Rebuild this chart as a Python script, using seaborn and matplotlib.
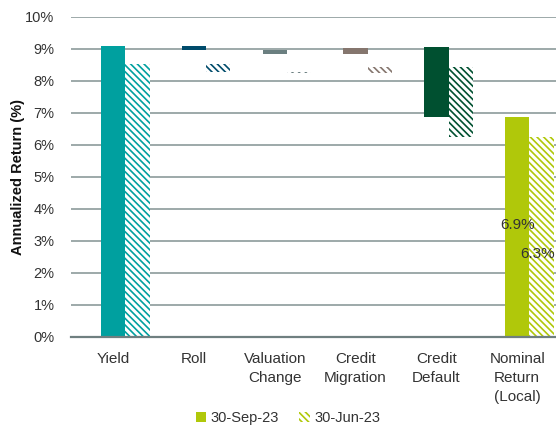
import numpy as np
import pandas as pd
import matplotlib
matplotlib.use("Agg")
import matplotlib.pyplot as plt
import seaborn as sns
from matplotlib.patches import Patch

categories = ["Yield", "Roll", "Valuation\nChange", "Credit\nMigration",
              "Credit\nDefault", "Nominal\nReturn\n(Local)"]
colors = ["#00A09F", "#004B6B", "#6B7F80", "#85766E", "#005030", "#B0C80A"]

# floating bars: bottom and top of each step (%)
sep_bottom = [0.0, 8.97, 8.84, 8.84, 6.88, 0.0]
sep_top = [9.08, 9.08, 8.97, 9.02, 9.05, 6.88]
jun_bottom = [0.0, 8.27, 8.23, 8.23, 6.25, 0.0]
jun_top = [8.52, 8.52, 8.27, 8.44, 8.43, 6.23]
labels_sep = "6.9%"
labels_jun = "6.3%"

sns.set_theme(style="white")
plt.rcParams["font.family"] = ["Liberation Sans", "DejaVu Sans"]
plt.rcParams["hatch.linewidth"] = 1.2

HATCH = "\\" * 5

fig = plt.figure(figsize=(5.56, 4.25), dpi=100)
ax = fig.add_axes([0.128, 0.2078, 0.872, 0.7529])

pos = np.arange(len(categories))
w = 0.3

def draw(offset, bottom, top, hatched):
    df = pd.DataFrame({"x": pos + offset,
                       "h": np.array(top) - np.array(bottom)})
    n0 = len(ax.patches)
    sns.barplot(data=df, x="x", y="h", native_scale=True, width=w,
                errorbar=None, bottom=np.array(bottom), color="black",
                saturation=1, ax=ax)
    for p, c in zip(ax.patches[n0:], colors):
        if hatched:
            p.set_facecolor("white")
            p.set_edgecolor(c)
            p.set_hatch(HATCH)
        else:
            p.set_facecolor(c)
            p.set_edgecolor(c)
        p.set_linewidth(0)

draw(0.0, sep_bottom, sep_top, False)
draw(w, jun_bottom, jun_top, True)

ax.text(5, 3.5, labels_sep, ha="center", va="center", fontsize=11, color="#333333")
ax.text(5.46, 2.58, labels_jun, ha="right", va="center", fontsize=11, color="#333333")

ax.set_xlim(-0.52, 5.48)
ax.set_ylim(0, 10)
ax.set_yticks(np.arange(0, 11, 1))
ax.set_yticklabels([f"{v}%" for v in range(0, 11)])
ax.set_xticks(pos)
ax.set_xticklabels(categories, linespacing=1.45)
ax.tick_params(axis="y", length=0, pad=12, labelsize=10.5, labelcolor="#333333")
ax.tick_params(axis="x", length=0, pad=11, labelsize=11, labelcolor="#333333")
for sp in ["left", "right", "top"]:
    ax.spines[sp].set_visible(False)
ax.spines["bottom"].set_color("#6F7F80")
ax.spines["bottom"].set_linewidth(1.6)
ax.yaxis.grid(True, color="#95A3A3", linewidth=1.3)
ax.set_axisbelow(True)
ax.set_xlabel("")
ax.set_ylabel("Annualized Return (%)", fontsize=10.5, fontweight="bold",
              color="#111111", labelpad=0)

handles = [Patch(facecolor=colors[5], edgecolor=colors[5], linewidth=0),
           Patch(facecolor="white", edgecolor=colors[5], hatch=HATCH, linewidth=0)]
fig.legend(handles, ["30-Sep-23", "30-Jun-23"], loc="center",
           bbox_to_anchor=(288 / 556, 0.016), ncol=2, frameon=False,
           fontsize=10.5, handlelength=0.7, handleheight=0.7,
           handletextpad=0.3, columnspacing=1.4, labelcolor="#333333")

fig.savefig("out.png", dpi=100)
